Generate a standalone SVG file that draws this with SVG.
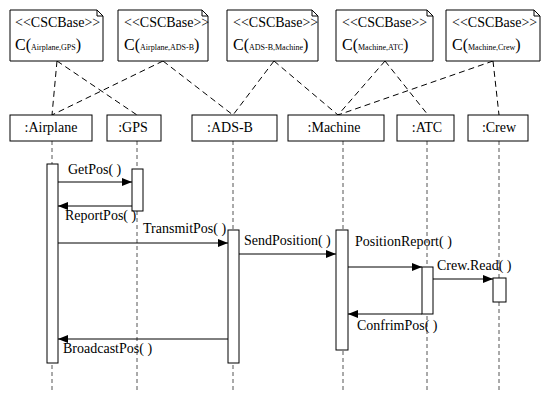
<svg xmlns="http://www.w3.org/2000/svg" width="551" height="400" viewBox="0 0 551 400">
<defs>
<marker id="ah" markerUnits="userSpaceOnUse" markerWidth="10" markerHeight="8" refX="10" refY="4" orient="auto">
<path d="M0,0 L10,4 L0,8 Z" fill="#000"/>
</marker>
</defs>
<style>
text{font-family:"Liberation Serif","Times New Roman",serif;fill:#000;}
.lbl{font-size:14px;}
.big{font-size:16px;}
.c{text-anchor:middle;}
.sm{font-size:8px;}
.box{fill:#fff;stroke:#000;stroke-width:1;}
.note{fill:#fff;stroke:#000;stroke-width:1;}
.fold{fill:none;stroke:#000;stroke-width:1;}
.link{stroke:#000;stroke-width:1;stroke-dasharray:6,4;fill:none;}
.life{stroke:#555;stroke-width:1;stroke-dasharray:4,3;fill:none;}
.act{fill:#fff;stroke:#000;stroke-width:1;}
.msg{stroke:#000;stroke-width:1;fill:none;marker-end:url(#ah);}
</style>
<rect width="551" height="400" fill="#fff"/>

<g id="connectors">
<line class="link" x1="57" y1="61" x2="52" y2="115"/>
<line class="link" x1="57" y1="61" x2="137" y2="115"/>
<line class="link" x1="163" y1="61" x2="52" y2="115"/>
<line class="link" x1="163" y1="61" x2="233" y2="115"/>
<line class="link" x1="274" y1="61" x2="233" y2="115"/>
<line class="link" x1="274" y1="61" x2="338" y2="115"/>
<line class="link" x1="385" y1="61" x2="338" y2="115"/>
<line class="link" x1="385" y1="61" x2="428" y2="115"/>
<line class="link" x1="493" y1="61" x2="338" y2="115"/>
<line class="link" x1="493" y1="61" x2="499" y2="115"/>
<line class="life" x1="52" y1="141" x2="52" y2="390"/>
<line class="life" x1="137" y1="141" x2="137" y2="390"/>
<line class="life" x1="233" y1="141" x2="233" y2="390"/>
<line class="life" x1="343" y1="141" x2="343" y2="390"/>
<line class="life" x1="427" y1="141" x2="427" y2="390"/>
<line class="life" x1="499" y1="141" x2="499" y2="390"/>
</g>

<g id="note1">
<path class="note" d="M10,10 H97 L103,16 V61 H10 Z"/>
<path class="fold" d="M97,10 V16 H103"/>
<text class="lbl" x="15" y="27">&lt;&lt;CSCBase&gt;&gt;</text>
<text class="big" x="15" y="50">C(<tspan class="sm">Airplane,GPS</tspan>)</text>
</g>
<g id="note2">
<path class="note" d="M118,10 H202 L208,16 V61 H118 Z"/>
<path class="fold" d="M202,10 V16 H208"/>
<text class="lbl" x="124" y="27">&lt;&lt;CSCBase&gt;&gt;</text>
<text class="big" x="124" y="50">C(<tspan class="sm">Airplane,ADS-B</tspan>)</text>
</g>
<g id="note3">
<path class="note" d="M227,10 H312 L318,16 V61 H227 Z"/>
<path class="fold" d="M312,10 V16 H318"/>
<text class="lbl" x="233" y="27">&lt;&lt;CSCBase&gt;&gt;</text>
<text class="big" x="233" y="50">C(<tspan class="sm">ADS-B,Machine</tspan>)</text>
</g>
<g id="note4">
<path class="note" d="M336,10 H427 L433,16 V61 H336 Z"/>
<path class="fold" d="M427,10 V16 H433"/>
<text class="lbl" x="342" y="27">&lt;&lt;CSCBase&gt;&gt;</text>
<text class="big" x="342" y="50">C(<tspan class="sm">Machine,ATC</tspan>)</text>
</g>
<g id="note5">
<path class="note" d="M446,10 H534 L540,16 V61 H446 Z"/>
<path class="fold" d="M534,10 V16 H540"/>
<text class="lbl" x="452" y="27">&lt;&lt;CSCBase&gt;&gt;</text>
<text class="big" x="452" y="50">C(<tspan class="sm">Machine,Crew</tspan>)</text>
</g>

<g id="airplane">
<rect class="box" x="10" y="115" width="82" height="26"/>
<text class="lbl c" x="51" y="132">:Airplane</text>
</g>
<g id="gps">
<rect class="box" x="107" y="115" width="54" height="26"/>
<text class="lbl c" x="133" y="132">:GPS</text>
</g>
<g id="adsb">
<rect class="box" x="192" y="115" width="85" height="26"/>
<text class="lbl c" x="230" y="132">:ADS-B</text>
</g>
<g id="machine">
<rect class="box" x="288" y="115" width="96" height="26"/>
<text class="lbl c" x="334" y="132">:Machine</text>
</g>
<g id="atc">
<rect class="box" x="397" y="115" width="57" height="26"/>
<text class="lbl c" x="427" y="132">:ATC</text>
</g>
<g id="crew">
<rect class="box" x="468" y="115" width="60" height="26"/>
<text class="lbl c" x="499" y="132">:Crew</text>
</g>

<g id="activations">
<rect class="act" x="47" y="164" width="11" height="199"/>
<rect class="act" x="132" y="169" width="11" height="42"/>
<rect class="act" x="228" y="230" width="11" height="133"/>
<rect class="act" x="336" y="230" width="12" height="120"/>
<rect class="act" x="422" y="267" width="11" height="47"/>
<rect class="act" x="493" y="278" width="13" height="24"/>
</g>

<g id="messages">
<line class="msg" x1="58" y1="182" x2="132" y2="182"/>
<text class="lbl" x="68" y="174">GetPos( )</text>
<line class="msg" x1="132" y1="206" x2="58" y2="206"/>
<text class="lbl" x="65" y="220">ReportPos( )</text>
<line class="msg" x1="58" y1="243" x2="228" y2="243"/>
<text class="lbl" x="143" y="233">TransmitPos( )</text>
<line class="msg" x1="239" y1="254" x2="336" y2="254"/>
<text class="lbl" x="244" y="245">SendPosition( )</text>
<line class="msg" x1="348" y1="267" x2="422" y2="267"/>
<text class="lbl" x="355" y="246">PositionReport( )</text>
<line class="msg" x1="433" y1="279" x2="493" y2="279"/>
<text class="lbl" x="437" y="270">Crew.Read( )</text>
<line class="msg" x1="422" y1="314" x2="348" y2="314"/>
<text class="lbl" x="357" y="330">ConfrimPos( )</text>
<line class="msg" x1="228" y1="339" x2="58" y2="339"/>
<text class="lbl" x="63" y="353">BroadcastPos( )</text>
</g>
</svg>
